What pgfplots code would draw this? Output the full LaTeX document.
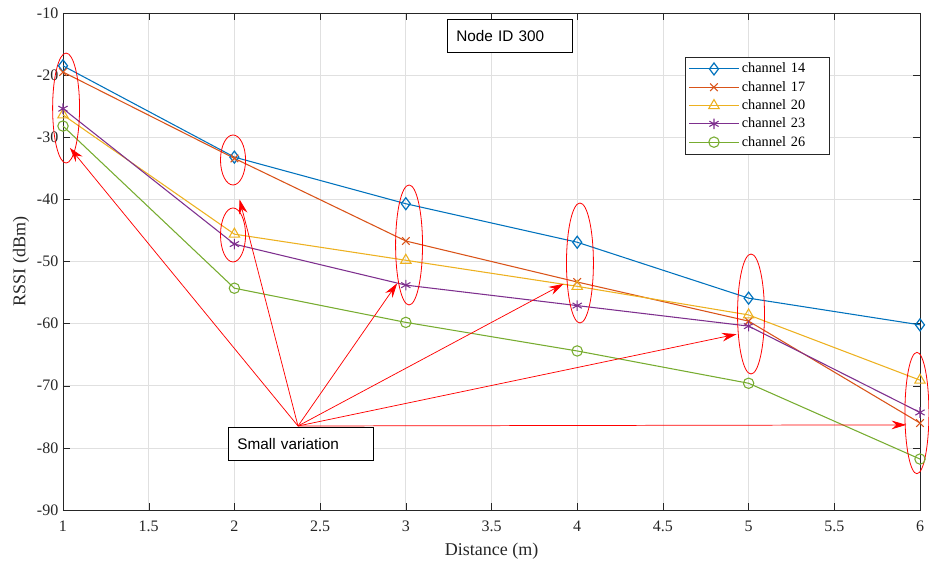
\documentclass[border=0pt]{standalone}
\usepackage{pgfplots}
\pgfplotsset{compat=1.18}
\usepackage{fontspec}
\setmainfont{Liberation Serif}
\newfontfamily\arialfont{Liberation Sans}
\usetikzlibrary{calc,arrows.meta}
\definecolor{c1}{rgb}{0,0.447,0.741}
\definecolor{c2}{rgb}{0.850,0.325,0.098}
\definecolor{c3}{rgb}{0.929,0.694,0.125}
\definecolor{c4}{rgb}{0.494,0.184,0.556}
\definecolor{c5}{rgb}{0.466,0.674,0.188}
\definecolor{axgray}{rgb}{0.15,0.15,0.15}
\tikzset{redarrow/.style={red, line width=0.55pt, -{Stealth[length=11pt, width=6.5pt]}}}
\begin{document}
\begin{tikzpicture}
\begin{axis}[
  scale only axis,
  width=642.75pt, height=372.75pt,
  xmin=1, xmax=6, ymin=-90, ymax=-10,
  xtick={1,1.5,...,6},
  ytick={-90,-80,...,-10},
  xticklabels={1,1.5,2,2.5,3,3.5,4,4.5,5,5.5,6},
  /pgf/number format/assume math mode=true,
  tick label style={font=\fontsize{12}{14}\selectfont, color=axgray},
  xticklabel style={yshift=-5pt},
  label style={font=\fontsize{13.5}{15}\selectfont, color=axgray},
  xlabel={Distance (m)},
  ylabel={RSSI (dBm)},
  xlabel style={yshift=-1pt},
  ylabel style={yshift=-1pt},
  grid=major,
  major grid style={color=black!12, line width=0.5pt},
  axis line style={color=axgray, line width=0.5pt},
  tick style={color=axgray},
  tick align=inside,
  major tick length=5pt,
  clip=false,
  legend style={at={(0.726,0.912)}, anchor=north west, font=\fontsize{10.7}{13}\selectfont,
    draw=axgray, row sep=0.8pt, inner sep=2.5pt,
    nodes={text width=61pt, align=left}},
  legend cell align=left,
  legend image code/.code={%
    \draw[mark repeat=2,mark phase=2] plot coordinates {(0cm,0cm) (0.65cm,0cm) (1.3cm,0cm)};},
  every axis plot/.append style={line width=0.8pt, mark size=4pt},
]
\addplot[color=c1, mark=diamond, mark size=4.5pt, mark options={solid, line width=0.9pt}] coordinates {
 (1,-18.5) (2,-33.2) (3,-40.7) (4,-46.9) (5,-55.9) (6,-60.2)};
\addlegendentry{channel 14}
\addplot[color=c2, mark=x, mark size=4pt] coordinates {
 (1,-19.5) (2,-33.4) (3,-46.7) (4,-53.3) (5,-59.6) (6,-76.0)};
\addlegendentry{channel 17}
\addplot[color=c3, mark=triangle, mark size=4.5pt] coordinates {
 (1,-26.4) (2,-45.6) (3,-49.8) (4,-54.0) (5,-58.6) (6,-69.1)};
\addlegendentry{channel 20}
\addplot[color=c4, mark=asterisk, mark size=4pt] coordinates {
 (1,-25.4) (2,-47.2) (3,-53.8) (4,-57.1) (5,-60.4) (6,-74.3)};
\addlegendentry{channel 23}
\addplot[color=c5, mark=o, mark size=3.9pt] coordinates {
 (1,-28.2) (2,-54.3) (3,-59.8) (4,-64.4) (5,-69.6) (6,-81.8)};
\addlegendentry{channel 26}

% ellipses
\draw[red, line width=0.6pt] (axis cs:1.018,-25.3) ellipse [x radius=10.1pt, y radius=41.25pt];
\draw[red, line width=0.6pt] (axis cs:1.992,-33.66) ellipse [x radius=9.4pt, y radius=18.75pt];
\draw[red, line width=0.6pt] (axis cs:1.992,-45.73) ellipse [x radius=9.4pt, y radius=20.25pt];
\draw[red, line width=0.6pt] (axis cs:3.019,-47.34) ellipse [x radius=10.1pt, y radius=45pt];
\draw[red, line width=0.6pt] (axis cs:4.016,-50.24) ellipse [x radius=10.1pt, y radius=45pt];
\draw[red, line width=0.6pt] (axis cs:5.014,-58.45) ellipse [x radius=10.1pt, y radius=45pt];
\draw[red, line width=0.6pt] (axis cs:5.982,-74.39) ellipse [x radius=9pt, y radius=45.5pt];

% arrows
\draw[redarrow] (axis cs:2.371,-76.48) -- (axis cs:1.04,-31.7);
\draw[redarrow] (axis cs:2.371,-76.48) -- (axis cs:2.03,-40.0);
\draw[redarrow] (axis cs:2.371,-76.48) -- (axis cs:2.95,-53.5);
\draw[redarrow] (axis cs:2.371,-76.48) -- (axis cs:3.92,-53.6);
\draw[redarrow] (axis cs:2.371,-76.48) -- (axis cs:4.93,-61.7);
\draw[redarrow] (axis cs:2.371,-76.48) -- (axis cs:5.92,-76.3);

% text boxes
\node[draw=black, fill=white, anchor=north west, minimum height=24.75pt, text width=80pt,
  inner xsep=6.75pt, inner ysep=0pt, align=left, font=\arialfont\fontsize{11.5}{13}\selectfont, line width=0.6pt]
  at (axis cs:3.240,-10.97) {Node ID 300};
\node[draw=black, fill=white, anchor=north west, minimum height=24.75pt, text width=95.25pt,
  inner xsep=6.75pt, inner ysep=0pt, align=left, font=\arialfont\fontsize{11.5}{13}\selectfont, line width=0.6pt]
  at (axis cs:1.963,-76.64) {Small variation};
\end{axis}
\pgfresetboundingbox
\path ($(current axis.south west)+(-47.25pt,-39pt)$) rectangle ($(current axis.north east)+(6.75pt,9.75pt)$);
\end{tikzpicture}
\end{document}
